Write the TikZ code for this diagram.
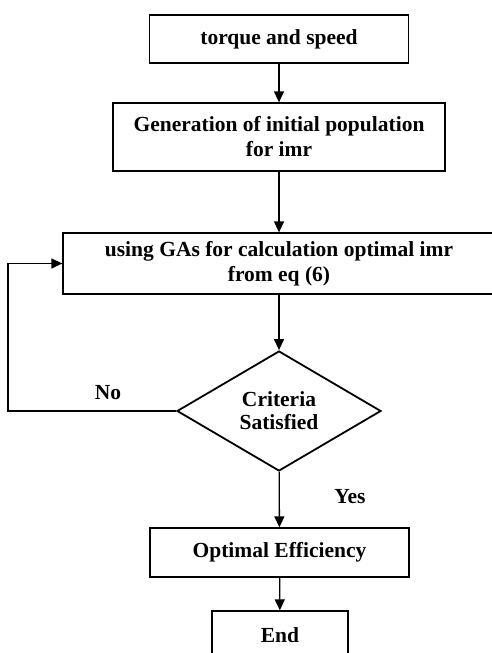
\documentclass[tikz,border=0pt]{standalone}
\usepackage{fontspec}
\setmainfont{Liberation Serif}
\usetikzlibrary{shapes.geometric,arrows.meta}

\begin{document}
\begin{tikzpicture}[x=1pt,y=-1pt,
  box/.style={draw,line width=1.3pt,inner sep=0pt,align=center,font=\fontsize{21.5}{25}\selectfont\bfseries},
  cond/.style={draw,diamond,line width=1.8pt,inner sep=0pt,aspect=1.7,minimum width=204pt,minimum height=120pt,align=center,font=\fontsize{21.5}{23}\selectfont\bfseries},
  tag/.style={font=\fontsize{21.5}{25}\selectfont\bfseries},
  arr/.style={line width=1.3pt,-{Triangle[length=11pt,width=10pt]}}]

  \clip (0,0) rectangle (492,653);

  \node[box,minimum width=259pt,minimum height=48pt] (torque) at (279,39) {torque and speed};
  \node[box,minimum width=332pt,minimum height=68pt] (init) at (279,137) {Generation of initial population\\for imr};
  \node[box,minimum width=432pt,minimum height=61pt] (ga) at (279,263.5) {using GAs for calculation optimal imr\\from eq (6)};
  \node[cond] (crit) at (279,411) {Criteria\\Satisfied};
  \node[box,minimum width=259pt,minimum height=49pt] (eff) at (279.5,552.5) {Optimal Efficiency};
  \node[box,minimum width=136pt,minimum height=48pt] (end) at (280,635) {End};

  \node[tag] (no) at (108,393) {No};
  \node[tag] (yes) at (350,497) {Yes};
  \coordinate (back) at (8,411);

  \draw[arr] (torque) -- (init);
  \draw[arr] (init) -- (ga);
  \draw[arr] (ga) -- (crit);
  \draw[arr] (crit) -- (eff);
  \draw[arr] (eff) -- (end);
  \draw[arr] (crit.west) -- (back) |- (ga.west);
\end{tikzpicture}
\end{document}
